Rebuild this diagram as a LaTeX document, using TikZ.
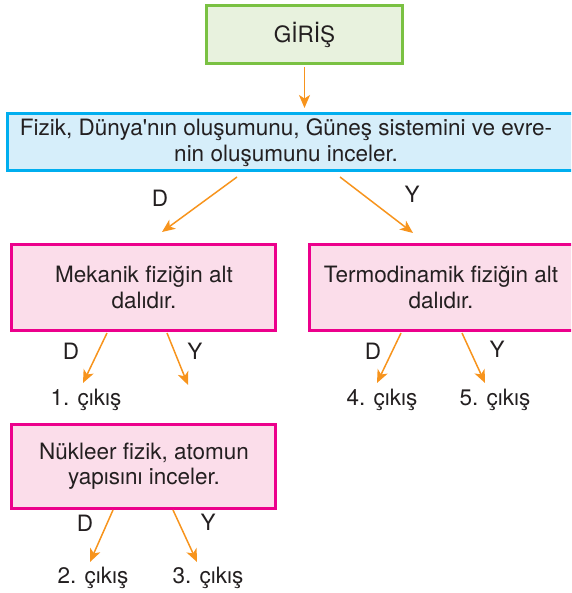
\documentclass[tikz,border=0pt]{standalone}
\usepackage{fontspec}
\setmainfont{TeX Gyre Heros}
\usetikzlibrary{arrows.meta,calc}

\definecolor{ink}{RGB}{35,31,32}
\definecolor{greenline}{RGB}{122,193,66}
\definecolor{greenfill}{RGB}{232,242,222}
\definecolor{blueline}{RGB}{0,174,239}
\definecolor{bluefill}{RGB}{214,238,250}
\definecolor{pinkline}{RGB}{236,0,140}
\definecolor{pinkfill}{RGB}{251,221,234}
\definecolor{arrowor}{RGB}{247,148,29}

\newcommand{\boxfont}{\fontsize{22.5}{25.5}\selectfont}

\tikzset{
  basebox/.style={rectangle, line width=3pt, outer sep=0pt, inner sep=0pt,
    text=ink, align=center, font=\boxfont},
  greenbox/.style={basebox, draw=greenline, fill=greenfill},
  bluebox/.style={basebox, draw=blueline, fill=bluefill},
  pinkbox/.style={basebox, draw=pinkline, fill=pinkfill},
  txt/.style={inner sep=0pt, text=ink, align=center, font=\boxfont},
  lbl/.style={inner sep=0pt, text=ink, font=\boxfont},
  arr/.style={draw=arrowor, line width=1.5pt,
    -{Stealth[length=13pt,width=11pt,inset=3.5pt]}}
}

\begin{document}
\begin{tikzpicture}[x=1pt,y=-1pt]
  \useasboundingbox (0,0) rectangle (571,593);
  \clip (0,0) rectangle (571,593);

  % start box
  \node[greenbox, minimum width=196pt, minimum height=58pt] (giris) at (304.5,35) {GİRİŞ};

  % first question
  \node[bluebox, minimum width=580pt, minimum height=57pt] (fizikbox) at (297.5,142.5) {};
  \node[txt] (fizik) at (286,142.5) {Fizik, Dünya\textquotesingle nın oluşumunu, Güneş sistemini ve evre-\\nin oluşumunu inceler.};

  % second level questions
  \node[pinkbox, minimum width=264pt, minimum height=86pt] (mek) at (143.5,287.5) {};
  \node[txt] (mektext) at (144,287.5) {Mekanik fiziğin alt\\dalıdır.};
  \node[pinkbox, minimum width=276pt, minimum height=86pt] (termo) at (447.5,287.5) {};
  \node[txt] (termotext) at (441,287.5) {Termodinamik fiziğin alt\\dalıdır.};

  % third level question
  \node[pinkbox, minimum width=264pt, minimum height=84pt] (nuk) at (143.5,466) {};
  \node[txt] (nuktext) at (144,466) {Nükleer fizik, atomun\\yapısını inceler.};

  % exits
  \node[lbl] (c1) at (86,400) {1. çıkış};
  \node[lbl] (c4) at (382,400) {4. çıkış};
  \node[lbl] (c5) at (495,400) {5. çıkış};
  \node[lbl] (c2) at (93,578) {2. çıkış};
  \node[lbl] (c3) at (208,578) {3. çıkış};

  % answer labels
  \node[lbl] (fD) at (160,198) {D};
  \node[lbl] (fY) at (412,194) {Y};
  \node[lbl] (mD) at (71,351) {D};
  \node[lbl] (mY) at (195,351) {Y};
  \node[lbl] (tD) at (373,351) {D};
  \node[lbl] (tY) at (497,349) {Y};
  \node[lbl] (nD) at (85,523) {D};
  \node[lbl] (nY) at (208,522) {Y};

  % arrow tips
  \coordinate (fDend) at (162,232);
  \coordinate (fYend) at (413,233);
  \coordinate (mDend) at (83,383);
  \coordinate (mYend) at (188,385);
  \coordinate (tDend) at (377,383);
  \coordinate (tYend) at (485,383);
  \coordinate (nDend) at (90,562);
  \coordinate (nYend) at (197,562);

  % connectors
  \draw[arr] ([yshift=-3pt]giris.south) -- ([yshift=6pt]giris.south |- fizikbox.north);
  \draw[arr] ($(fizikbox.south west)+(229.5,6)$) -- (fDend);
  \draw[arr] ($(fizikbox.south west)+(332.5,6)$) -- (fYend);
  \draw[arr] ($(mek.south west)+(95.5,2.5)$) -- (mDend);
  \draw[arr] ($(mek.south west)+(155.5,2.5)$) -- (mYend);
  \draw[arr] ($(termo.south west)+(91.5,2.5)$) -- (tDend);
  \draw[arr] ($(termo.south west)+(152.5,2.5)$) -- (tYend);
  \draw[arr] ($(nuk.south west)+(101.5,2)$) -- (nDend);
  \draw[arr] ($(nuk.south west)+(161.5,2)$) -- (nYend);
\end{tikzpicture}
\end{document}
